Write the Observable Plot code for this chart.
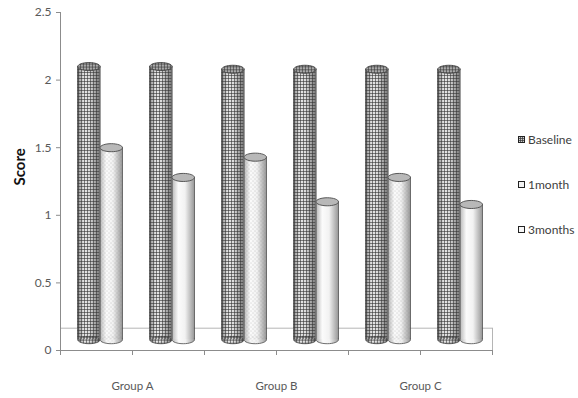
<!DOCTYPE html>
<html>
<head>
<meta charset="utf-8">
<script src="https://cdn.jsdelivr.net/npm/d3@7"></script>
<script src="https://cdn.jsdelivr.net/npm/@observablehq/plot@0.6"></script>
<style>
  html, body { margin: 0; padding: 0; background: #fff; overflow: hidden; }
  #wrap { position: relative; width: 578px; height: 398px; font-family: Lato, "Open Sans", sans-serif; }
  #legend { position: absolute; left: 518px; top: 131px; font-size: 12px; color: #404040; }
  #legend .item { display: flex; align-items: center; height: 16px; margin-bottom: 29px; }
  #legend svg { margin-right: 3px; }
</style>
</head>
<body>
<div id="wrap"></div>
<script>
// Mean scores per group at each time point
const groups = ["Group A", "Group B", "Group C"];
const baseline = [2.10, 2.08, 2.08];
const month1 = [1.50, 1.43, 1.28];
const months3 = [1.28, 1.10, 1.08];
const seriesNames = ["Baseline", "1month", "3months"];

// Axis ticks
const yTicks = [0, 0.5, 1, 1.5, 2, 2.5];
const yTickLabels = ["0", "0.5", "1", "1.5", "2", "2.5"];
const xTicks = [0, 1, 2, 3, 4, 5, 6];
const groupTickPos = [1, 3, 5];

// 3-D look: floor depth and where cylinders stand on it
const floorLevel = 0.165;
const standLevel = 0.08;

// Each group has two slots: baseline vs 1 month, baseline vs 3 months
const slots = groups.flatMap((g, gi) => [
  {slot: 2 * gi, base: baseline[gi], follow: month1[gi], kind: "1month"},
  {slot: 2 * gi + 1, base: baseline[gi], follow: months3[gi], kind: "3months"}
]);
const cylinders = slots.flatMap(s => [
  {series: "Baseline", x1: s.slot + 0.24, x2: s.slot + 0.55, value: s.base},
  {series: s.kind, x1: s.slot + 0.55, x2: s.slot + 0.86, value: s.follow}
]).map(d => ({...d, xc: (d.x1 + d.x2) / 2}));

// Elliptical cap used for the top and bottom of each cylinder
const ellipse = {
  draw(ctx, size) {
    const rx = Math.sqrt(size / Math.PI), ry = rx * 0.36, k = 0.5523;
    ctx.moveTo(rx, 0);
    ctx.bezierCurveTo(rx, ry * k, rx * k, ry, 0, ry);
    ctx.bezierCurveTo(-rx * k, ry, -rx, ry * k, -rx, 0);
    ctx.bezierCurveTo(-rx, -ry * k, -rx * k, -ry, 0, -ry);
    ctx.bezierCurveTo(rx * k, -ry, rx, -ry * k, rx, 0);
    ctx.closePath();
  }
};

const style = {
  Baseline: {shade: "url(#shadeDark)", texture: "url(#grid)", cap: "#a9a9a9"},
  "1month": {shade: "url(#shadeLight)", texture: "url(#dots)", cap: "#b8b8b8"},
  "3months": {shade: "url(#shadeLight)", texture: null, cap: "#b8b8b8"}
};
const outline = "#4a4a4a";
const capR = 11.2;

const cylMarks = seriesNames.flatMap(name => {
  const data = cylinders.filter(d => d.series === name);
  const st = style[name];
  const m = [
    Plot.dot(data, {x: "xc", y: standLevel, r: capR, symbol: ellipse, fill: st.shade, stroke: outline, strokeWidth: 0.8}),
    Plot.rect(data, {x1: "x1", x2: "x2", y1: standLevel, y2: "value", fill: st.shade})
  ];
  if (st.texture) {
    m.push(Plot.dot(data, {x: "xc", y: standLevel, r: capR, symbol: ellipse, fill: st.texture}));
    m.push(Plot.rect(data, {x1: "x1", x2: "x2", y1: standLevel, y2: "value", fill: st.texture}));
  }
  m.push(
    Plot.ruleX(data, {x: "x1", y1: standLevel, y2: "value", stroke: outline, strokeWidth: 0.9}),
    Plot.ruleX(data, {x: "x2", y1: standLevel, y2: "value", stroke: outline, strokeWidth: 0.9}),
    Plot.dot(data, {x: "xc", y: "value", r: capR, symbol: ellipse, fill: st.cap, stroke: outline, strokeWidth: 0.9})
  );
  if (name === "Baseline") {
    m.push(Plot.dot(data, {x: "xc", y: "value", r: capR, symbol: ellipse, fill: st.texture}));
  }
  return m;
});

const chart = Plot.plot({
  width: 578,
  height: 398,
  marginLeft: 60,
  marginRight: 86,
  marginTop: 12,
  marginBottom: 48,
  style: {fontFamily: "Lato, 'Open Sans', sans-serif", fontSize: "12px", background: "white"},
  x: {domain: [0, 6], axis: null},
  y: {domain: [0, 2.5], axis: null},
  marks: [
    // floor of the 3-D plot area
    Plot.ruleY([floorLevel], {x1: 0, x2: 6, stroke: "#b5b5b5", strokeWidth: 1}),
    Plot.ruleX([6], {y1: -0.02, y2: floorLevel, stroke: "#b5b5b5", strokeWidth: 1}),
    ...cylMarks,
    // axes
    Plot.ruleX([0], {y1: -0.02, y2: 2.5, stroke: "#8c8c8c"}),
    Plot.ruleY([0], {x1: 0, x2: 6, stroke: "#8c8c8c"}),
    Plot.axisY({ticks: yTicks, tickFormat: d => yTickLabels[yTicks.indexOf(d)], tickSize: 4, tickPadding: 5, label: null, color: "#595959", stroke: "#8c8c8c", fontSize: 12}),
    Plot.axisX({ticks: xTicks, tickFormat: () => "", tickSize: 5, label: null, stroke: "#8c8c8c"}),
    Plot.axisX({ticks: groupTickPos, tickFormat: d => groups[groupTickPos.indexOf(d)], tickSize: 0, tickPadding: 31, label: null, color: "#595959", fontSize: 11.5}),
    Plot.text(["Score"], {frameAnchor: "left", rotate: -90, dx: -40, dy: 4, fontWeight: "bold", fontSize: 15, fill: "#111"})
  ]
});

// Gradients and textures for the cylinders
const defs = `
<defs>
  <linearGradient id="shadeDark" x1="0" x2="1" y1="0" y2="0">
    <stop offset="0" stop-color="#8a8a8a"/>
    <stop offset="0.3" stop-color="#e6e6e6"/>
    <stop offset="0.55" stop-color="#dcdcdc"/>
    <stop offset="1" stop-color="#7a7a7a"/>
  </linearGradient>
  <linearGradient id="shadeLight" x1="0" x2="1" y1="0" y2="0">
    <stop offset="0" stop-color="#b4b4b4"/>
    <stop offset="0.3" stop-color="#fbfbfb"/>
    <stop offset="0.6" stop-color="#f2f2f2"/>
    <stop offset="1" stop-color="#9c9c9c"/>
  </linearGradient>
  <pattern id="grid" patternUnits="userSpaceOnUse" width="3" height="3">
    <path d="M0 0.5H3M0.5 0V3" stroke="#333" stroke-width="0.7" stroke-opacity="0.85" fill="none"/>
  </pattern>
  <pattern id="dots" patternUnits="userSpaceOnUse" width="4" height="4">
    <circle cx="1" cy="1" r="0.45" fill="#888"/>
    <circle cx="3" cy="3" r="0.45" fill="#888"/>
  </pattern>
</defs>`;
chart.insertAdjacentHTML("afterbegin", defs);

const wrap = document.getElementById("wrap");
wrap.appendChild(chart);

// Legend on the right of the plot
const swatch = {
  Baseline: `<rect x="0.5" y="0.5" width="6" height="6" fill="#cfcfcf"/><path d="M0.5 2.5H6.5M0.5 4.5H6.5M2.5 0.5V6.5M4.5 0.5V6.5" stroke="#333" stroke-width="0.7"/><rect x="0.5" y="0.5" width="6" height="6" fill="none" stroke="#222"/>`,
  "1month": `<rect x="0.5" y="0.5" width="6" height="6" fill="#f2f2f2" stroke="#222"/>`,
  "3months": `<rect x="0.5" y="0.5" width="6" height="6" fill="#f7f7f7" stroke="#222"/>`
};
const legend = document.createElement("div");
legend.id = "legend";
legend.innerHTML = seriesNames.map(n =>
  `<div class="item"><svg width="7" height="7">${swatch[n]}</svg><span>${n}</span></div>`
).join("");
wrap.appendChild(legend);
</script>
</body>
</html>
